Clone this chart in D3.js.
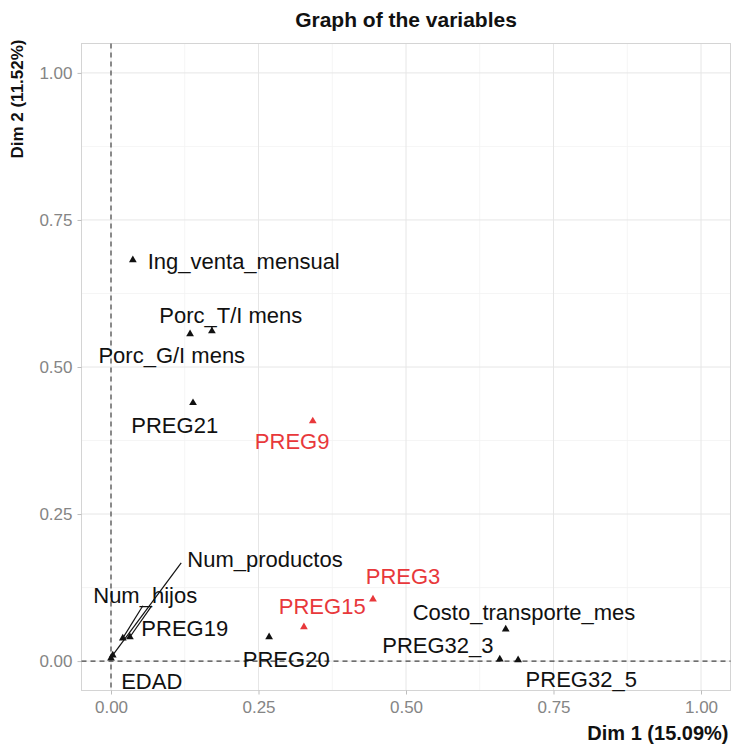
<!DOCTYPE html>
<html>
<head>
<meta charset="utf-8">
<script src="https://cdn.jsdelivr.net/npm/d3@7"></script>
<style>
  body { margin: 0; background: #fff; }
  text { font-family: "Liberation Sans", Arial, sans-serif; }
</style>
</head>
<body>
<div id="chart"></div>
<script>
// Data (MCA variable coordinates)
const names = ["EDAD", "Num_productos", "Num_hijos", "PREG19", "Ing_venta_mensual",
  "Porc_G/I mens", "Porc_T/I mens", "PREG21", "PREG9", "PREG20", "PREG15", "PREG3",
  "Costo_transporte_mes", "PREG32_3", "PREG32_5"];
const dim1 = [0.000, 0.003, 0.020, 0.032, 0.037, 0.134, 0.171, 0.139, 0.342, 0.268, 0.327, 0.444, 0.669, 0.659, 0.690];
const dim2 = [0.005, 0.010, 0.039, 0.041, 0.682, 0.556, 0.561, 0.439, 0.408, 0.041, 0.058, 0.105, 0.054, 0.003, 0.002];
const highlighted = ["PREG9", "PREG15", "PREG3"];
// repelled label anchors (data units)
const labelDim1 = [0.069, 0.261, 0.058, 0.125, 0.225, 0.103, 0.203, 0.108, 0.307, 0.297, 0.358, 0.495, 0.700, 0.554, 0.797];
const labelDim2 = [-0.034, 0.172, 0.112, 0.056, 0.679, 0.520, 0.587, 0.401, 0.374, 0.002, 0.092, 0.143, 0.083, 0.027, -0.032];
// repel segments: point name, segment start (data units)
const segPoint = ["Num_productos", "Num_hijos", "PREG19", "Porc_T/I mens"];
const segStartDim1 = [0.119, 0.054, 0.069, 0.171];
const segStartDim2 = [0.167, 0.094, 0.094, 0.568];
const ticks = [0, 0.25, 0.5, 0.75, 1];
const minorTicks = [0.125, 0.375, 0.625, 0.875];
const xTitle = "Dim 1 (15.09%)";
const yTitle = "Dim 2 (11.52%)";
const title = "Graph of the variables";

const W = 731, H = 749;
const pLeft = 81.5, pRight = 730.5, pTop = 43.5, pBottom = 690.5;

const svg = d3.select("#chart").append("svg").attr("width", W).attr("height", H);

const x = d3.scaleLinear().domain([-0.05, 1.05]).range([pLeft, pRight]);
const y = d3.scaleLinear().domain([-0.05, 1.05]).range([pBottom, pTop]);

// panel grid
const grid = svg.append("g");
grid.selectAll(".minx").data(minorTicks).enter().append("line")
  .attr("x1", d => x(d)).attr("x2", d => x(d)).attr("y1", pTop).attr("y2", pBottom)
  .attr("stroke", "#f2f2f2").attr("stroke-width", 0.8);
grid.selectAll(".miny").data(minorTicks).enter().append("line")
  .attr("y1", d => y(d)).attr("y2", d => y(d)).attr("x1", pLeft).attr("x2", pRight)
  .attr("stroke", "#f2f2f2").attr("stroke-width", 0.8);
grid.selectAll(".majx").data(ticks).enter().append("line")
  .attr("x1", d => x(d)).attr("x2", d => x(d)).attr("y1", pTop).attr("y2", pBottom)
  .attr("stroke", "#e6e6e6").attr("stroke-width", 1);
grid.selectAll(".majy").data(ticks).enter().append("line")
  .attr("y1", d => y(d)).attr("y2", d => y(d)).attr("x1", pLeft).attr("x2", pRight)
  .attr("stroke", "#e6e6e6").attr("stroke-width", 1);
svg.append("rect").attr("x", pLeft).attr("y", pTop)
  .attr("width", pRight - pLeft).attr("height", pBottom - pTop)
  .attr("fill", "none").attr("stroke", "#d4d4d4").attr("stroke-width", 1);

// axes
const xAxis = svg.append("g").attr("transform", `translate(0,${pBottom})`)
  .call(d3.axisBottom(x).tickValues(ticks).tickFormat(d3.format(".2f")).tickSize(4).tickPadding(6));
const yAxis = svg.append("g").attr("transform", `translate(${pLeft},0)`)
  .call(d3.axisLeft(y).tickValues(ticks).tickFormat(d3.format(".2f")).tickSize(4).tickPadding(5));
[xAxis, yAxis].forEach(a => {
  a.select(".domain").remove();
  a.selectAll(".tick line").attr("stroke", "#bdbdbd");
  a.selectAll(".tick text").attr("fill", "#858585").style("font-size", "17px")
    .style("font-family", "'Liberation Sans', Arial, sans-serif");
});

// zero reference lines
svg.append("line").attr("x1", x(0)).attr("x2", x(0)).attr("y1", pTop).attr("y2", pBottom)
  .attr("stroke", "#444").attr("stroke-width", 1.2).attr("stroke-dasharray", "5,4");
svg.append("line").attr("y1", y(0)).attr("y2", y(0)).attr("x1", pLeft).attr("x2", pRight)
  .attr("stroke", "#444").attr("stroke-width", 1.2).attr("stroke-dasharray", "5,4");

const colorOf = n => highlighted.includes(n) ? "#e8383b" : "#111";

// labels
svg.append("g").selectAll("text").data(names).enter().append("text")
  .attr("x", (d, i) => x(labelDim1[i]))
  .attr("y", (d, i) => y(labelDim2[i]))
  .attr("text-anchor", "middle").attr("dominant-baseline", "central")
  .attr("fill", d => colorOf(d))
  .style("font-size", "22px")
  .text(d => d);

// segments joining labels to their points
svg.append("g").selectAll("line").data(segPoint).enter().append("line")
  .attr("x1", (d, i) => x(segStartDim1[i]))
  .attr("y1", (d, i) => y(segStartDim2[i]))
  .attr("x2", d => x(dim1[names.indexOf(d)]))
  .attr("y2", d => y(dim2[names.indexOf(d)]))
  .attr("stroke", "#111").attr("stroke-width", 1.2);

// points
svg.append("g").selectAll("path").data(names).enter().append("path")
  .attr("d", d3.symbol().type(d3.symbolTriangle).size(26))
  .attr("transform", (d, i) => `translate(${x(dim1[i])},${y(dim2[i])})`)
  .attr("fill", d => colorOf(d));

// titles
svg.append("text").attr("x", (pLeft + pRight) / 2).attr("y", 27)
  .attr("text-anchor", "middle").style("font-size", "21px").style("font-weight", "bold")
  .attr("fill", "#111").text(title);
svg.append("text").attr("x", pRight - 2).attr("y", 740)
  .attr("text-anchor", "end").style("font-size", "20px").style("font-weight", "bold")
  .attr("fill", "#111").text(xTitle);
svg.append("text").attr("transform", `translate(23,${pTop - 4}) rotate(-90)`)
  .attr("text-anchor", "end").style("font-size", "17px").style("font-weight", "bold")
  .attr("fill", "#111").text(yTitle);
</script>
</body>
</html>
